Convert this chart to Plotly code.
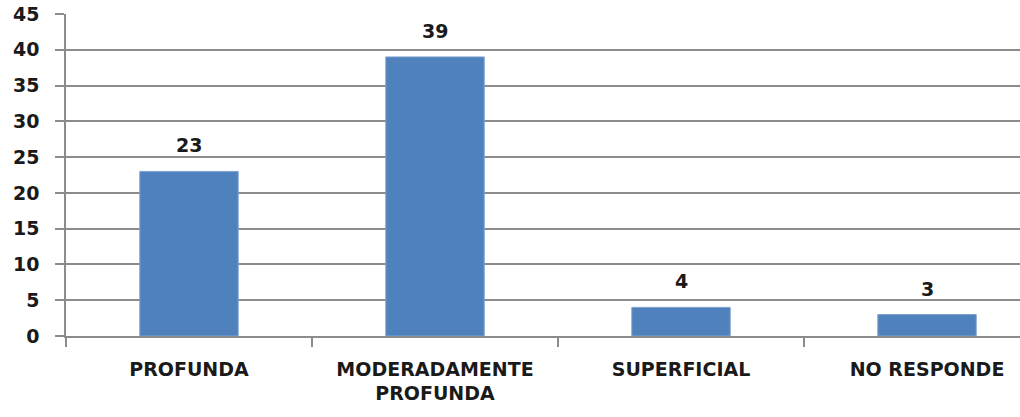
import plotly.graph_objects as go

categories = ["PROFUNDA", "MODERADAMENTE<br>PROFUNDA", "SUPERFICIAL", "NO RESPONDE"]
values = [23, 39, 4, 3]
y_ticks = [0, 5, 10, 15, 20, 25, 30, 35, 40, 45]

grid_col = "#8c8c8c"
bar_col = "#4F81BD"
font_fam = "DejaVu Sans, Liberation Sans, sans-serif"
fsize = 19

fig = go.Figure()
fig.add_trace(go.Bar(
    x=categories, y=values,
    marker=dict(color=bar_col, line=dict(color="#7ea2cf", width=1)),
    width=0.4,
))

for c, v in zip(categories, values):
    fig.add_annotation(x=c, y=v, text=str(v), showarrow=False,
                       yanchor="bottom", yshift=13,
                       font=dict(family=font_fam, size=fsize, color="#1a1a1a", weight="bold"))

fig.update_layout(
    width=1020, height=417,
    margin=dict(l=66, r=0, t=14, b=81, autoexpand=False),
    plot_bgcolor="white", paper_bgcolor="white",
    showlegend=False,
    font=dict(family=font_fam, color="#1a1a1a"),
)
fig.update_xaxes(
    type="category", range=[-0.5, 3.378], automargin=False,
    showline=True, linecolor=grid_col, linewidth=1.5,
    ticks="outside", tickson="boundaries", ticklen=9, tickcolor=grid_col, tickwidth=1.5,
    tickfont=dict(family=font_fam, size=fsize, color="#1a1a1a", weight="bold"),
    ticklabelstandoff=15,
    showgrid=False,
)
fig.update_yaxes(
    range=[0, 45], tickvals=y_ticks, automargin=False,
    showline=True, linecolor=grid_col, linewidth=1.5,
    showgrid=True, gridcolor=grid_col, gridwidth=1.5,
    ticks="outside", ticklen=9, tickcolor=grid_col, tickwidth=1.5,
    tickfont=dict(family=font_fam, size=fsize, color="#1a1a1a", weight="bold"),
    ticklabelstandoff=12,
    zeroline=False,
)

fig.write_html("out.html", config={"displayModeBar": False},
               post_script="document.body.style.margin='0';document.body.style.padding='0';")
